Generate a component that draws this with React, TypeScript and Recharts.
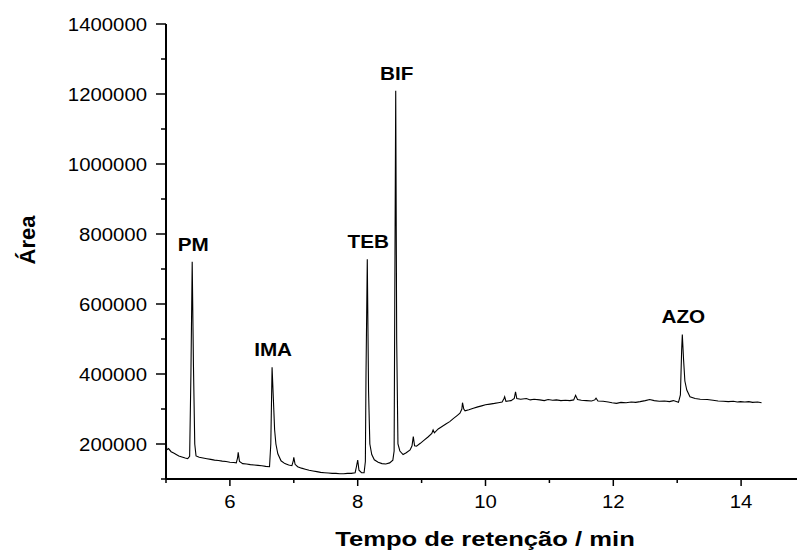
import React from 'react';
import { LineChart, Line, XAxis, YAxis, ReferenceDot } from 'recharts';

// retention time (min) and detector area
const retentionTime = [
  5.0, 5.01, 5.04, 5.08, 5.12, 5.16, 5.2, 5.25, 5.3, 5.34, 5.37, 5.39, 5.41, 5.43, 5.45, 5.47,
  5.52, 5.58, 5.64, 5.7, 5.76, 5.82, 5.88, 5.94, 6.0, 6.06, 6.1, 6.12, 6.13, 6.15, 6.2, 6.26,
  6.32, 6.38, 6.44, 6.5, 6.56, 6.62, 6.64, 6.66, 6.68, 6.7, 6.72, 6.75, 6.8, 6.86, 6.92, 6.97,
  6.99, 7.0, 7.02, 7.06, 7.12, 7.18, 7.24, 7.3, 7.36, 7.42, 7.48, 7.54, 7.6, 7.66, 7.72, 7.78,
  7.84, 7.9, 7.96, 7.98, 8.0, 8.02, 8.06, 8.1, 8.12, 8.13, 8.15, 8.17, 8.19, 8.22, 8.26, 8.32,
  8.38, 8.44, 8.5, 8.55, 8.57, 8.58, 8.595, 8.61, 8.63, 8.66, 8.71, 8.76, 8.82, 8.85, 8.87, 8.89,
  8.92, 8.98, 9.04, 9.1, 9.16, 9.18, 9.2, 9.26, 9.32, 9.38, 9.44, 9.5, 9.56, 9.6, 9.63, 9.64,
  9.66, 9.68, 9.74, 9.81, 9.88, 9.94, 10.0, 10.07, 10.14, 10.2, 10.26, 10.29, 10.3, 10.32, 10.4, 10.45,
  10.47, 10.49, 10.55, 10.64, 10.7, 10.76, 10.85, 10.92, 10.98, 11.05, 11.11, 11.18, 11.25, 11.32, 11.38, 11.41,
  11.44, 11.5, 11.58, 11.66, 11.71, 11.73, 11.76, 11.84, 11.92, 11.98, 12.05, 12.12, 12.2, 12.28, 12.35, 12.42,
  12.5, 12.57, 12.64, 12.72, 12.8, 12.88, 12.94, 13.02, 13.05, 13.07, 13.08, 13.1, 13.12, 13.15, 13.2, 13.28,
  13.36, 13.47, 13.56, 13.64, 13.72, 13.8, 13.88, 13.94, 13.99, 14.06, 14.12, 14.18, 14.26, 14.32,
];

const area = [
  243000, 183000, 187000, 178000, 174000, 170000, 166000, 163000, 160000, 158000, 165000, 400000, 721000, 420000, 200000, 166000,
  162000, 160000, 158000, 156000, 154000, 153000, 151000, 150000, 148000, 147000, 146000, 160000, 176000, 150000, 144000, 143000,
  141000, 140000, 139000, 138000, 136000, 135000, 200000, 419000, 330000, 240000, 200000, 172000, 152000, 144000, 140000, 138000,
  150000, 162000, 142000, 135000, 131000, 128000, 125000, 123000, 121000, 119000, 118000, 117000, 116000, 116000, 115000, 115000,
  116000, 116000, 118000, 135000, 154000, 125000, 118000, 118000, 150000, 400000, 728000, 350000, 200000, 170000, 155000, 148000,
  144000, 143000, 146000, 154000, 180000, 600000, 1209000, 500000, 200000, 180000, 170000, 175000, 183000, 195000, 221000, 195000,
  194000, 202000, 211000, 220000, 230000, 240000, 232000, 243000, 250000, 257000, 264000, 273000, 282000, 288000, 300000, 318000,
  300000, 295000, 298000, 302000, 306000, 309000, 312000, 314000, 316000, 318000, 320000, 330000, 335000, 322000, 324000, 330000,
  349000, 330000, 328000, 330000, 326000, 328000, 326000, 324000, 327000, 325000, 326000, 324000, 325000, 324000, 326000, 339000,
  327000, 325000, 324000, 323000, 326000, 331000, 323000, 322000, 320000, 318000, 316000, 319000, 318000, 320000, 319000, 321000,
  324000, 327000, 324000, 322000, 323000, 321000, 324000, 319000, 340000, 470000, 513000, 440000, 380000, 354000, 335000, 330000,
  328000, 327000, 325000, 323000, 322000, 321000, 322000, 320000, 321000, 320000, 321000, 319000, 320000, 318000,
];

const peakNames = ['PM', 'IMA', 'TEB', 'BIF', 'AZO'];
const peakTimes = [5.41, 6.66, 8.15, 8.595, 13.08];

const xTicks = [5, 6, 7, 8, 9, 10, 11, 12, 13, 14, 15];
const yTicks = [
  100000, 200000, 300000, 400000, 500000, 600000, 700000, 800000,
  900000, 1000000, 1100000, 1200000, 1300000, 1400000,
];

const FONT = '"Liberation Sans", Arial, sans-serif';

const data = retentionTime.map((t, i) => ({ t, area: area[i] }));

// the source figure's lettering is slightly wide, so text gets a small horizontal stretch
const WideText = ({ x, y, size, bold = false, sx = 1.1, anchor = 'middle', children }: any) => (
  <text
    transform={`translate(${x} ${y}) scale(${sx} 1)`}
    textAnchor={anchor}
    fontSize={size}
    fontWeight={bold ? 'bold' : 'normal'}
    fontFamily={FONT}
    fill="#000"
  >
    {children}
  </text>
);

const YTick = (props: any) => {
  const { x, y, payload } = props;
  const major = payload.value % 200000 === 0;
  return (
    <g>
      <line x1={x - (major ? 10 : 5)} x2={x} y1={y} y2={y} stroke="#000" strokeWidth={1.5} />
      {major && (
        <WideText x={x - 19} y={y + 6.5} size={18.5} anchor="end">
          {payload.value}
        </WideText>
      )}
    </g>
  );
};

const XTick = (props: any) => {
  const { x, y, payload } = props;
  const major = payload.value % 2 === 0;
  return (
    <g>
      <line x1={x} x2={x} y1={y} y2={y + (major ? 7 : 4)} stroke="#000" strokeWidth={1.5} />
      {major && (
        <WideText x={x} y={y + 29} size={18.5}>
          {payload.value}
        </WideText>
      )}
    </g>
  );
};

export default function App() {
  return (
    <div style={{ position: 'absolute', left: 0, top: 0, width: 797, height: 551, overflow: 'hidden', background: '#fff' }}>
      <LineChart width={805} height={551} data={data} margin={{ top: 24, right: 0, bottom: 0, left: 0 }}>
        <XAxis
          dataKey="t"
          type="number"
          domain={[5, 15]}
          ticks={xTicks}
          interval={0}
          height={72}
          tickSize={0}
          tickMargin={0}
          tickLine={false}
          tick={<XTick />}
          axisLine={{ stroke: '#000', strokeWidth: 2 }}
          label={{
            content: () => (
              <WideText x={485} y={546} size={21} bold sx={1.22}>
                Tempo de retenção / min
              </WideText>
            ),
          }}
        />
        <YAxis
          type="number"
          domain={[100000, 1400000]}
          ticks={yTicks}
          interval={0}
          width={166}
          tickSize={0}
          tickMargin={0}
          tickLine={false}
          tick={<YTick />}
          axisLine={{ stroke: '#000', strokeWidth: 2 }}
          label={{
            content: () => (
              <text
                transform="translate(35 240) rotate(-90)"
                textAnchor="middle"
                fontSize={22}
                fontWeight="bold"
                fontFamily={FONT}
                fill="#000"
              >
                Área
              </text>
            ),
          }}
        />
        <Line
          type="linear"
          dataKey="area"
          stroke="#000"
          strokeWidth={1.1}
          dot={false}
          activeDot={false}
          isAnimationActive={false}
        />
        {peakNames.map((name, i) => {
          const idx = retentionTime.indexOf(peakTimes[i]);
          return (
            <ReferenceDot
              key={name}
              x={peakTimes[i]}
              y={area[idx]}
              r={0}
              fill="none"
              stroke="none"
              ifOverflow="visible"
              label={{
                value: name,
                content: (p: any) => (
                  <WideText x={p.viewBox.x + 1} y={p.viewBox.y - 11} size={18} bold sx={1.15}>
                    {name}
                  </WideText>
                ),
              }}
            />
          );
        })}
      </LineChart>
    </div>
  );
}
